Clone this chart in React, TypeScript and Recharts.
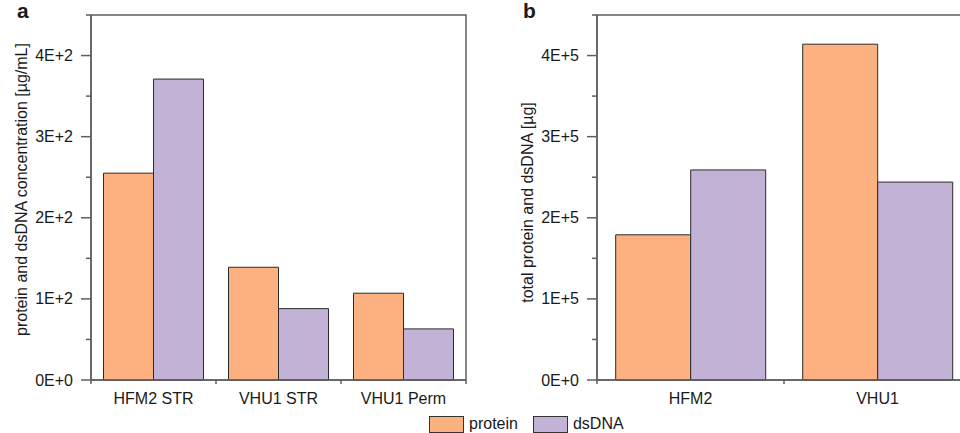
import { BarChart, Bar, XAxis, YAxis, Legend, ReferenceArea } from "recharts";

const categoriesA = ["HFM2 STR", "VHU1 STR", "VHU1 Perm"];
const proteinA = [255, 139, 107];
const dsDnaA = [371, 88, 63];

const categoriesB = ["HFM2", "VHU1"];
const proteinB = [179000, 414000];
const dsDnaB = [259000, 244000];

const ticksA = [0, 50, 100, 150, 200, 250, 300, 350, 400, 450];
const tickLabelsA = ["0E+0", "1E+2", "2E+2", "3E+2", "4E+2"];
const ticksB = [0, 50000, 100000, 150000, 200000, 250000, 300000, 350000, 400000, 450000];
const tickLabelsB = ["0E+0", "1E+5", "2E+5", "3E+5", "4E+5"];

const seriesNames = ["protein", "dsDNA"];
const seriesColors = ["#FEB180", "#C2B2D6"];

const AXIS = "#5f5f5f";
const TEXT = "#1a1a1a";
const FONT = "'Liberation Sans', Arial, sans-serif";

const dataA = categoriesA.map((name, i) => ({ name, protein: proteinA[i], dsDNA: dsDnaA[i] }));
const dataB = categoriesB.map((name, i) => ({ name, protein: proteinB[i], dsDNA: dsDnaB[i] }));

// y ticks: long ones with labels at each major step, short ones in between
const makeYTick = (step: number, labels: string[]) => (p: any) => {
  const v = p.payload.value;
  const major = v % step === 0;
  return (
    <g>
      <line x1={p.x - (major ? 10 : 5)} x2={p.x} y1={p.y} y2={p.y} stroke={AXIS} strokeWidth={1.5} />
      {major && (
        <text x={p.x - 18} y={p.y} dy={5.6} textAnchor="end" fontSize={16} fill={TEXT}>
          {labels[v / step]}
        </text>
      )}
    </g>
  );
};

// x ticks sit on the category edges, the label in the middle
const XTick = (p: any) => {
  const half = p.payload.offset ?? 0;
  const last = p.index === p.visibleTicksCount - 1;
  return (
    <g>
      <line x1={p.x - half} x2={p.x - half} y1={p.y} y2={p.y + 4} stroke={AXIS} strokeWidth={1.5} />
      {last && <line x1={p.x + half} x2={p.x + half} y1={p.y} y2={p.y + 4} stroke={AXIS} strokeWidth={1.5} />}
      <text x={p.x} y={p.y} dy={24} textAnchor="middle" fontSize={16} fill={TEXT}>
        {p.payload.value}
      </text>
    </g>
  );
};

const yTitle = (text: string, shift: number) => (p: any) => {
  const vb = p.viewBox;
  const x = vb.x + 8;
  const y = vb.y + vb.height / 2 + shift;
  return (
    <text x={x} y={y} dy={5.6} transform={`rotate(-90, ${x}, ${y})`} textAnchor="middle" fontSize={16} fill={TEXT}>
      {text}
    </text>
  );
};

const LegendContent = (props: any) => {
  const items = [...(props.payload || [])].sort(
    (a: any, b: any) => seriesNames.indexOf(a.value) - seriesNames.indexOf(b.value)
  );
  return (
    <div style={{ display: "flex", alignItems: "center", fontSize: 16, color: TEXT, whiteSpace: "nowrap" }}>
      {items.map((item: any, i: number) => (
        <div key={item.value} style={{ display: "flex", alignItems: "center", marginRight: i === 0 ? 15 : 0 }}>
          <span
            style={{
              display: "inline-block",
              width: 33,
              height: 15,
              background: item.color,
              border: "1px solid #333",
              marginRight: 5,
            }}
          />
          <span>{item.value}</span>
        </div>
      ))}
    </div>
  );
};

function Panel({
  data,
  categories,
  ticks,
  step,
  labels,
  title,
  titleShift,
  left,
  marginLeft,
  marginRight,
  withLegend,
}: any) {
  const max = ticks[ticks.length - 1];
  return (
    <div style={{ position: "absolute", left, top: 0 }}>
      <BarChart
        width={480}
        height={433}
        data={data}
        margin={{ top: 15, right: marginRight, bottom: 23, left: marginLeft }}
        barCategoryGap="10%"
        barGap={0}
      >
        <XAxis
          dataKey="name"
          height={30}
          tickLine={false}
          tickSize={0}
          tickMargin={0}
          interval={0}
          axisLine={{ stroke: AXIS, strokeWidth: 1.5 }}
          tick={XTick}
        />
        <YAxis
          width={78}
          domain={[0, max]}
          ticks={ticks}
          interval={0}
          tickLine={false}
          tickSize={0}
          tickMargin={0}
          axisLine={{ stroke: AXIS, strokeWidth: 1.5 }}
          tick={makeYTick(step, labels)}
          label={{ content: yTitle(title, titleShift) }}
        />
        {/* box around the plot */}
        <ReferenceArea
          x1={categories[0]}
          x2={categories[categories.length - 1]}
          y1={0}
          y2={max}
          fill="none"
          fillOpacity={0}
          stroke={AXIS}
          strokeWidth={1.5}
          ifOverflow="visible"
        />
        {withLegend && (
          <Legend
            layout="horizontal"
            verticalAlign="middle"
            align="center"
            wrapperStyle={{ position: "absolute", left: 429, top: 415, width: 260 }}
            content={LegendContent}
          />
        )}
        <Bar dataKey="protein" name={seriesNames[0]} fill={seriesColors[0]} stroke="#2b2b2b" strokeWidth={1} isAnimationActive={false} />
        <Bar dataKey="dsDNA" name={seriesNames[1]} fill={seriesColors[1]} stroke="#2b2b2b" strokeWidth={1} isAnimationActive={false} />
      </BarChart>
    </div>
  );
}

export default function App() {
  return (
    <div
      style={{
        position: "absolute",
        left: 0,
        top: 0,
        width: 960,
        height: 433,
        overflow: "hidden",
        background: "#fff",
        fontFamily: FONT,
      }}
    >
      <Panel
        data={dataA}
        categories={categoriesA}
        ticks={ticksA}
        step={100}
        labels={tickLabelsA}
        title="protein and dsDNA concentration [µg/mL]"
        titleShift={-8}
        left={0}
        marginLeft={13}
        marginRight={14}
        withLegend
      />
      <Panel
        data={dataB}
        categories={categoriesB}
        ticks={ticksB}
        step={100000}
        labels={tickLabelsB}
        title="total protein and dsDNA [µg]"
        titleShift={5}
        left={500}
        marginLeft={19}
        marginRight={9}
        withLegend={false}
      />
      <div style={{ position: "absolute", left: 17, top: -1, fontSize: 21, fontWeight: "bold", color: TEXT }}>a</div>
      <div style={{ position: "absolute", left: 523, top: -1, fontSize: 21, fontWeight: "bold", color: TEXT }}>b</div>
    </div>
  );
}
